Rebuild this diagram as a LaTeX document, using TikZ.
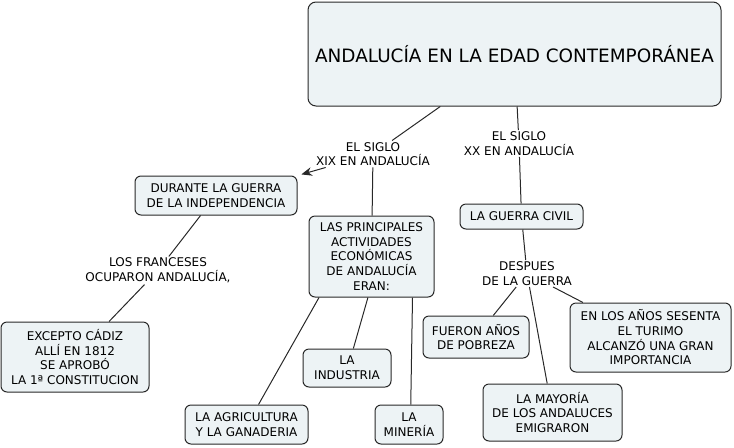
\documentclass[tikz,border=0pt]{standalone}
\usepackage{fontspec}
\setmainfont{DejaVu Sans}
\usetikzlibrary{arrows.meta}
\definecolor{boxfill}{RGB}{237,243,245}
\definecolor{boxline}{RGB}{40,40,40}

\begin{document}
\begin{tikzpicture}[x=0.75pt, y=-0.75pt, font=\fontsize{9}{11}\selectfont,
  concept/.style={draw=boxline, fill=boxfill, line width=0.75pt, rounded corners=4.5pt, align=center, inner sep=0pt},
  boxsize/.style 2 args={minimum width=#1*0.75pt, minimum height=#2*0.75pt},
  phrase/.style={align=center, inner sep=1pt},
  link/.style={draw=boxline, line width=0.75pt}]
  \useasboundingbox (0,0) rectangle (734,447);
  \node[concept, boxsize={413}{104}, rounded corners=6pt, font=\fontsize{13.8}{16}\selectfont] (title) at (514.5,54) {ANDALUCÍA EN LA EDAD CONTEMPORÁNEA};
  \node[phrase] (sigloxix) at (373,154) {EL SIGLO\\XIX EN ANDALUCÍA};
  \node[phrase] (sigloxx) at (519,143.5) {EL SIGLO\\XX EN ANDALUCÍA};
  \node[concept, boxsize={162}{39}] (guerraindep) at (216,195.5) {DURANTE LA GUERRA\\DE LA INDEPENDENCIA};
  \node[concept, boxsize={125}{81}] (actividades) at (371.5,256.5) {LAS PRINCIPALES\\ACTIVIDADES\\ECONÓMICAS\\DE ANDALUCÍA\\ERAN:};
  \node[concept, boxsize={123}{25}] (guerracivil) at (521.5,216.5) {LA GUERRA CIVIL};
  \node[phrase] (franceses) at (158,270.5) {LOS FRANCESES\\OCUPARON ANDALUCÍA,};
  \node[phrase] (despues) at (527,273.5) {DESPUES\\DE LA GUERRA};
  \node[concept, boxsize={148}{70}] (cadiz) at (75,357) {EXCEPTO CÁDIZ\\ALLÍ EN 1812\\SE APROBÓ\\LA 1ª CONSTITUCION};
  \node[concept, boxsize={88}{38}] (industria) at (347,368) {LA\\INDUSTRIA};
  \node[concept, boxsize={123}{39}] (agricultura) at (246.5,424.5) {LA AGRICULTURA\\Y LA GANADERIA};
  \node[concept, boxsize={68}{39}] (mineria) at (409,424.5) {LA\\MINERÍA};
  \node[concept, boxsize={106}{42}] (pobreza) at (476,337) {FUERON AÑOS\\DE POBREZA};
  \node[concept, boxsize={161}{69}] (turismo) at (650.5,337.5) {EN LOS AÑOS SESENTA\\EL TURIMO\\ALCANZÓ UNA GRAN\\IMPORTANCIA};
  \node[concept, boxsize={139}{57}] (emigraron) at (552.5,412.5) {LA MAYORÍA\\DE LOS ANDALUCES\\EMIGRARON};

  \draw[link] (title) -- (sigloxix);
  \draw[link, -{Stealth[length=8pt, width=6.5pt]}, shorten >=3pt] (sigloxix) -- (guerraindep.north east);
  \draw[link] (sigloxix) -- (actividades);
  \draw[link] (title) -- (sigloxx);
  \draw[link] (sigloxx) -- (guerracivil);
  \draw[link] (guerraindep) -- (franceses);
  \draw[link] (franceses) -- (cadiz);
  \draw[link] (actividades.218) -- (agricultura.59);
  \draw[link] (actividades.265) -- (industria.72);
  \draw[link] (actividades.315) -- (mineria.85);
  \draw[link] (guerracivil) -- (despues);
  \draw[link] (despues) -- (pobreza);
  \draw[link] (despues) -- (emigraron);
  \draw[link] (despues) -- (turismo);
\end{tikzpicture}
\end{document}
